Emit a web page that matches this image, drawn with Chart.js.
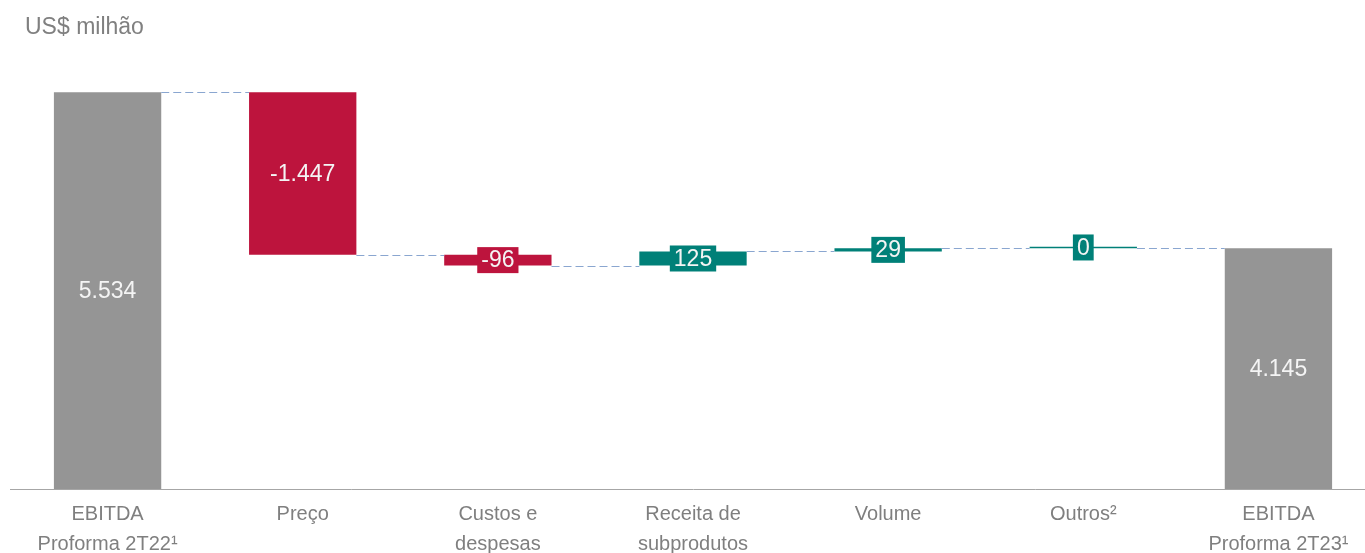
<!DOCTYPE html>
<html>
<head>
<meta charset="utf-8">
<script src="https://cdn.jsdelivr.net/npm/chart.js@4"></script>
<style>
  html, body { margin: 0; padding: 0; background: #fff; overflow: hidden; }
  #wrap { width: 1376px; height: 561px; }
</style>
</head>
<body>
<div id="wrap"><canvas id="waterfall"></canvas></div>
<script>
// --- データ ---
const categories = [
  ['EBITDA', 'Proforma 2T22¹'],
  'Preço',
  ['Custos e', 'despesas'],
  ['Receita de', 'subprodutos'],
  'Volume',
  'Outros²',
  ['EBITDA', 'Proforma 2T23¹']
];
const values = [5534, -1447, -96, 125, 29, 0, 4145];
const isTotal = [true, false, false, false, false, false, true];

const GREY = '#959595';
const RED = '#bd143d';
const TEAL = '#008078';

// 浮動バーの範囲を組み立てる
let running = 0;
const ranges = [];
const colors = [];
values.forEach((v, i) => {
  if (isTotal[i]) {
    ranges.push([2000, v]);
    running = v;
    colors.push(GREY);
  } else {
    ranges.push([running, running + v]);
    running += v;
    colors.push(v < 0 ? RED : TEAL);
  }
});

function fmt(v) {
  const s = Math.abs(v).toString().replace(/\B(?=(\d{3})+(?!\d))/g, '.');
  return (v < 0 ? '-' : '') + s;
}

// --- 接続線・ラベル・タイトル ---
const waterfallExtras = {
  id: 'waterfallExtras',
  afterDatasetsDraw(chart) {
    const ctx = chart.ctx;
    const meta = chart.getDatasetMeta(0);
    const y = chart.scales.y;

    // connectors
    ctx.save();
    ctx.strokeStyle = '#8aa6d0';
    ctx.lineWidth = 1;
    ctx.setLineDash([8, 4]);
    for (let i = 0; i < meta.data.length - 1; i++) {
      const a = meta.data[i], b = meta.data[i + 1];
      const py = Math.round(y.getPixelForValue(ranges[i][1])) + 0.5;
      ctx.beginPath();
      ctx.moveTo(a.x + a.width / 2, py);
      ctx.lineTo(b.x - b.width / 2, py);
      ctx.stroke();
    }
    ctx.restore();

    // labels
    ctx.save();
    ctx.font = '23px "Liberation Sans", Arial, sans-serif';
    ctx.textAlign = 'center';
    ctx.textBaseline = 'middle';
    meta.data.forEach((bar, i) => {
      const text = fmt(values[i]);
      const top = Math.min(bar.y, bar.base);
      const bottom = Math.max(bar.y, bar.base);
      const cy = (top + bottom) / 2;
      if (bottom - top < 30) {
        const w = ctx.measureText(text).width + 8;
        ctx.fillStyle = colors[i];
        ctx.fillRect(bar.x - w / 2, cy - 13, w, 26);
      }
      ctx.fillStyle = '#f4f4f4';
      ctx.fillText(text, bar.x, cy + 1);
    });
    ctx.restore();

    // title
    ctx.save();
    ctx.font = '23px "Liberation Sans", Arial, sans-serif';
    ctx.fillStyle = '#808080';
    ctx.textAlign = 'left';
    ctx.textBaseline = 'middle';
    ctx.fillText('US$ milhão', 25, 28);
    ctx.restore();
  }
};

new Chart(document.getElementById('waterfall'), {
  type: 'bar',
  data: {
    labels: categories,
    datasets: [{
      data: ranges,
      backgroundColor: colors,
      borderWidth: 0,
      minBarLength: 1.5,
      categoryPercentage: 1,
      barPercentage: 0.55
    }]
  },
  options: {
    responsive: true,
    maintainAspectRatio: false,
    animation: false,
    layout: { padding: { left: 10, right: 0, top: 40, bottom: 0 } },
    plugins: {
      legend: { display: false },
      tooltip: { enabled: false }
    },
    scales: {
      x: {
        grid: { display: false },
        border: { display: true, color: '#a6a6a6', width: 1 },
        ticks: {
          color: '#7f7f7f',
          padding: 2,
          maxRotation: 0,
          autoSkip: false,
          font: { family: "'Liberation Sans', Arial, sans-serif", size: 20, lineHeight: 1.5 }
        }
      },
      y: {
        display: false,
        min: 2000,
        max: 6000
      }
    }
  },
  plugins: [waterfallExtras]
});
</script>
</body>
</html>
